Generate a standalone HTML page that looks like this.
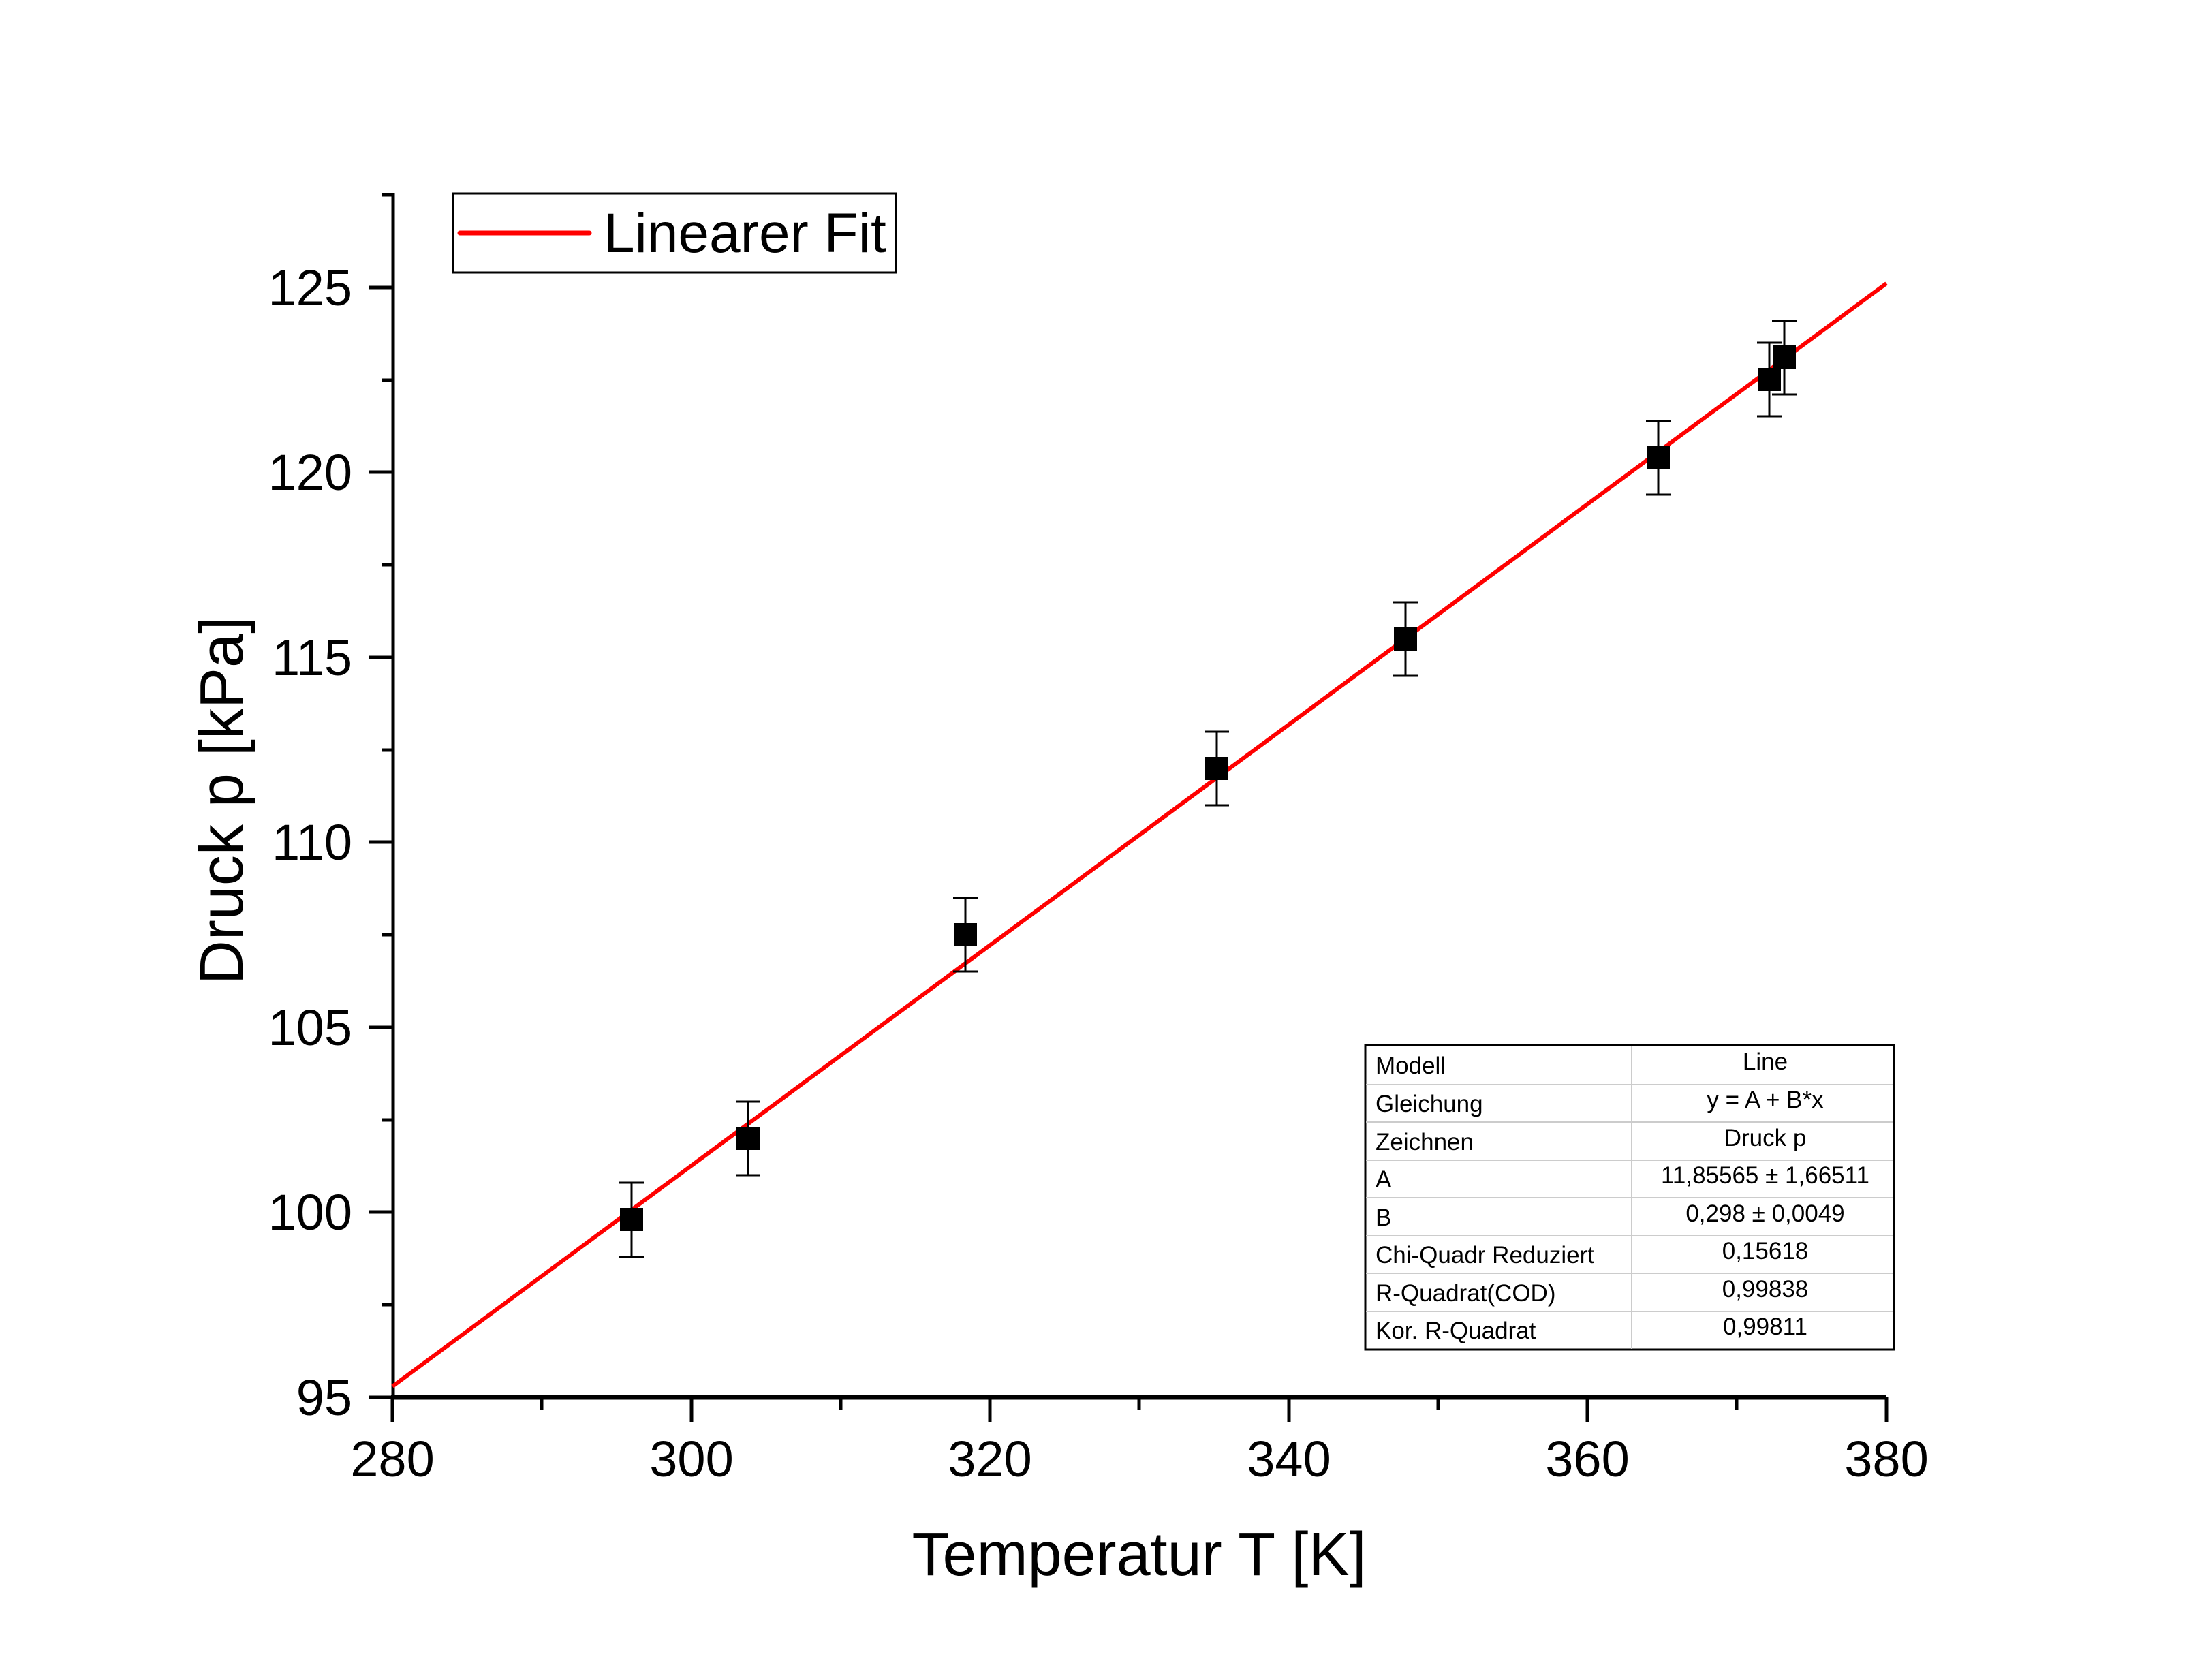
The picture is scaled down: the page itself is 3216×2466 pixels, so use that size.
<!DOCTYPE html>
<html><head><style>html,body{margin:0;padding:0;background:#fff}</style></head>
<body>
<svg width="3216" height="2461" viewBox="0 0 3216 2461" xmlns="http://www.w3.org/2000/svg" font-family="Liberation Sans, sans-serif">
<rect width="3216" height="2461" fill="#fff"/>
<g stroke="#000" stroke-width="5" fill="none">
<line x1="577" y1="283" x2="577" y2="2054"/>
<line x1="574" y1="2051" x2="2769" y2="2051" stroke-width="7"/>
<line x1="576" y1="2051" x2="576" y2="2088"/>
<line x1="1015" y1="2051" x2="1015" y2="2088"/>
<line x1="1453" y1="2051" x2="1453" y2="2088"/>
<line x1="1892" y1="2051" x2="1892" y2="2088"/>
<line x1="2330" y1="2051" x2="2330" y2="2088"/>
<line x1="2769" y1="2051" x2="2769" y2="2088"/>
<line x1="795" y1="2051" x2="795" y2="2070"/>
<line x1="1234" y1="2051" x2="1234" y2="2070"/>
<line x1="1672" y1="2051" x2="1672" y2="2070"/>
<line x1="2111" y1="2051" x2="2111" y2="2070"/>
<line x1="2549" y1="2051" x2="2549" y2="2070"/>
<line x1="542" y1="2051" x2="577" y2="2051"/>
<line x1="542" y1="1779" x2="577" y2="1779"/>
<line x1="542" y1="1508" x2="577" y2="1508"/>
<line x1="542" y1="1236" x2="577" y2="1236"/>
<line x1="542" y1="965" x2="577" y2="965"/>
<line x1="542" y1="693" x2="577" y2="693"/>
<line x1="542" y1="422" x2="577" y2="422"/>
<line x1="560" y1="1915" x2="577" y2="1915"/>
<line x1="560" y1="1644" x2="577" y2="1644"/>
<line x1="560" y1="1372" x2="577" y2="1372"/>
<line x1="560" y1="1101" x2="577" y2="1101"/>
<line x1="560" y1="829" x2="577" y2="829"/>
<line x1="560" y1="558" x2="577" y2="558"/>
<line x1="560" y1="286" x2="577" y2="286"/>
</g>
<g font-size="74" fill="#000" text-anchor="middle">
<text x="576" y="2167">280</text><text x="1015" y="2167">300</text><text x="1453" y="2167">320</text>
<text x="1892" y="2167">340</text><text x="2330" y="2167">360</text><text x="2769" y="2167">380</text>
</g>
<g font-size="74" fill="#000" text-anchor="end">
<text x="517" y="2077">95</text><text x="517" y="1805">100</text><text x="517" y="1534">105</text>
<text x="517" y="1262">110</text><text x="517" y="991">115</text><text x="517" y="719">120</text><text x="517" y="448">125</text>
</g>
<text x="1672" y="2312" font-size="90" text-anchor="middle">Temperatur T [K]</text>
<text transform="translate(356,1175) rotate(-90)" font-size="90" text-anchor="middle">Druck p [kPa]</text>
<rect x="665" y="284" width="650" height="116" fill="#fff" stroke="#000" stroke-width="3"/>
<line x1="675" y1="342" x2="865" y2="342" stroke="#f00" stroke-width="7" stroke-linecap="round"/>
<text x="886" y="370" font-size="82">Linearer Fit</text>
<line x1="576" y1="2035" x2="2769" y2="416" stroke="#f00" stroke-width="6"/>
<g stroke="#000" stroke-width="3">
<path d="M927 1736V1845M909 1736H945M909 1845H945"/>
<path d="M1098 1617V1725M1080 1617H1116M1080 1725H1116"/>
<path d="M1417 1318V1426M1399 1318H1435M1399 1426H1435"/>
<path d="M1786 1074V1182M1768 1074H1804M1768 1182H1804"/>
<path d="M2063 884V992M2045 884H2081M2045 992H2081"/>
<path d="M2434 618V726M2416 618H2452M2416 726H2452"/>
<path d="M2597 503V611M2579 503H2615M2579 611H2615"/>
<path d="M2619 471V579M2601 471H2637M2601 579H2637"/>
</g>
<g fill="#000">
<rect x="910" y="1773" width="34" height="34"/>
<rect x="1081" y="1654" width="34" height="34"/>
<rect x="1400" y="1355" width="34" height="34"/>
<rect x="1769" y="1111" width="34" height="34"/>
<rect x="2046" y="921" width="34" height="34"/>
<rect x="2417" y="655" width="34" height="34"/>
<rect x="2580" y="540" width="34" height="34"/>
<rect x="2602" y="507" width="34" height="34"/>
</g>
<rect x="2004" y="1534" width="776" height="447" fill="#fff" stroke="#000" stroke-width="3"/>
<g stroke="#ccc" stroke-width="2">
<line x1="2395" y1="1535" x2="2395" y2="1980"/>
<line x1="2005" y1="1592" x2="2779" y2="1592"/>
<line x1="2005" y1="1647" x2="2779" y2="1647"/>
<line x1="2005" y1="1703" x2="2779" y2="1703"/>
<line x1="2005" y1="1758" x2="2779" y2="1758"/>
<line x1="2005" y1="1814" x2="2779" y2="1814"/>
<line x1="2005" y1="1869" x2="2779" y2="1869"/>
<line x1="2005" y1="1925" x2="2779" y2="1925"/>
</g>
<g font-size="35" fill="#000">
<text x="2019" y="1576">Modell</text>
<text x="2019" y="1632">Gleichung</text>
<text x="2019" y="1688">Zeichnen</text>
<text x="2019" y="1743">A</text>
<text x="2019" y="1799">B</text>
<text x="2019" y="1854">Chi-Quadr Reduziert</text>
<text x="2019" y="1910">R-Quadrat(COD)</text>
<text x="2019" y="1965">Kor. R-Quadrat</text>
</g>
<g font-size="35" fill="#000" text-anchor="middle">
<text x="2591" y="1570">Line</text>
<text x="2591" y="1626">y = A + B*x</text>
<text x="2591" y="1682">Druck p</text>
<text x="2591" y="1737">11,85565 ± 1,66511</text>
<text x="2591" y="1793">0,298 ± 0,0049</text>
<text x="2591" y="1848">0,15618</text>
<text x="2591" y="1904">0,99838</text>
<text x="2591" y="1959">0,99811</text>
</g>
</svg>
</body></html>
